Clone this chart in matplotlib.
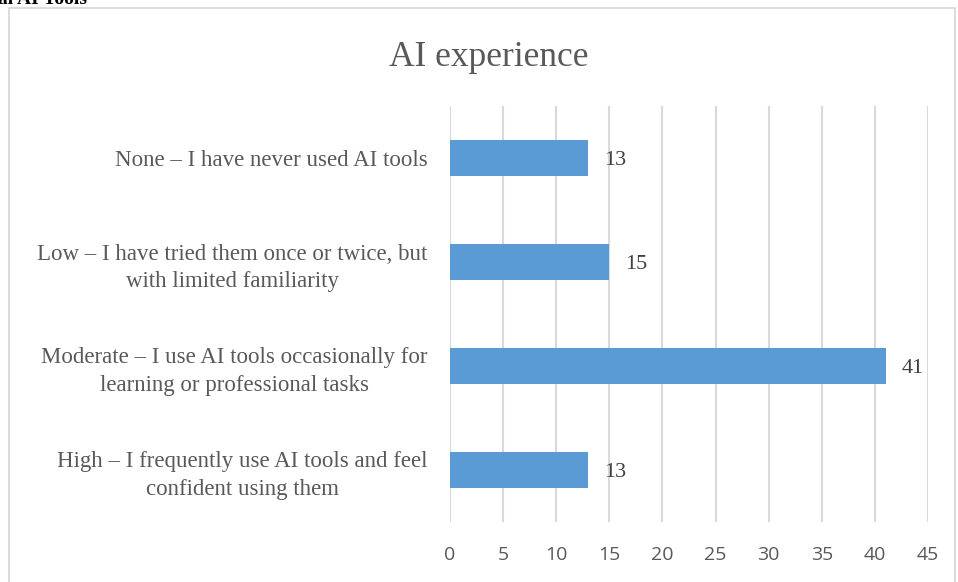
import matplotlib
matplotlib.use("Agg")
import matplotlib.pyplot as plt
from matplotlib.patches import Rectangle

# Datos del gráfico
categorias = [
    "None – I have never used AI tools",
    "Low – I have tried them once or twice, but\nwith limited familiarity",
    "Moderate – I use AI tools occasionally for\nlearning or professional tasks",
    "High – I frequently use AI tools and feel\nconfident using them",
]
valores = [13, 15, 41, 13]
ticks_x = [0, 5, 10, 15, 20, 25, 30, 35, 40, 45]

W, H = 958, 582
fig = plt.figure(figsize=(W / 100, H / 100), dpi=100)

# marco del gráfico (borde gris claro)
fig.patches.append(Rectangle((9 / W, -0.05), (955 - 9) / W, 1.05 - 8 / H,
                             transform=fig.transFigure, fill=False,
                             edgecolor="#d9d9d9", linewidth=1.3))

# texto cortado arriba a la izquierda (viene del documento original)
fig.text(-2 / W, 1 - 4 / H, "al AI Tools", fontsize=14, fontweight="bold",
         family="Liberation Serif", ha="left", va="baseline", color="black")

ax = fig.add_axes([450 / W, 1 - 522 / H, (928 - 450) / W, (522 - 106) / H])

pos = list(range(len(categorias)))
barras = ax.barh(pos, valores, height=0.355, color="#5b9bd5", zorder=3)

ax.set_xlim(0, 45)
ax.set_ylim(3.5, -0.5)
ax.set_xticks(ticks_x)
ax.set_yticks(pos)
ax.set_yticklabels(categorias, family="Liberation Serif", fontsize=16.5,
                   color="#595959", multialignment="center", linespacing=1.4)
ax.set_xticklabels([str(t) for t in ticks_x], family="Open Sans", fontsize=14,
                   color="#595959")
ax.tick_params(axis="y", length=0, pad=16)
ax.tick_params(axis="x", length=0, pad=17)

ax.grid(axis="x", color="#d9d9d9", linewidth=1.5, zorder=0)
for s in ax.spines.values():
    s.set_visible(False)

# etiquetas de valor
for b, v in zip(barras, valores):
    ax.annotate(str(v), xy=(b.get_width(), b.get_y() + b.get_height() / 2),
                xytext=(11.5, -1.5), textcoords="offset points", ha="left", va="center",
                family="Liberation Serif", fontsize=16, color="#404040")

fig.text(489 / W, 1 - 57 / H, "AI experience", family="Liberation Serif",
         fontsize=25.5, color="#595959", ha="center", va="center")

fig.savefig("out.png", dpi=100)
